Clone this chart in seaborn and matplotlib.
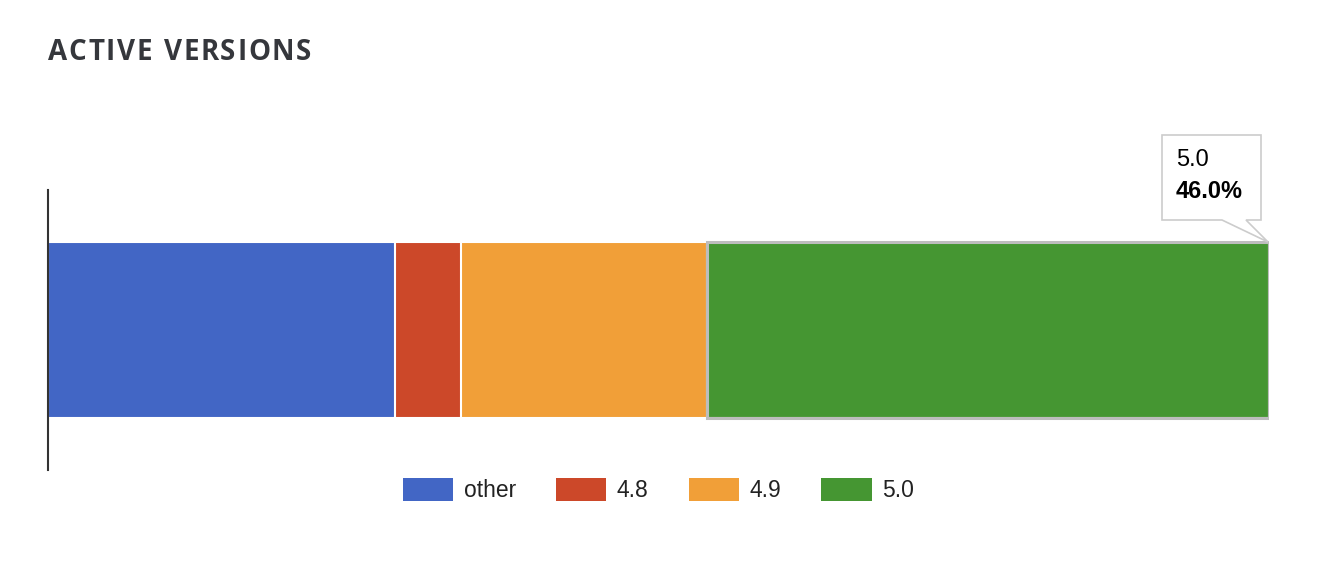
import matplotlib
matplotlib.use("Agg")
import matplotlib.pyplot as plt
from matplotlib.patches import Patch, Polygon
import seaborn as sns
import pandas as pd

# version shares (%)
versions = ["other", "4.8", "4.9", "5.0"]
shares = [28.4, 5.4, 20.2, 46.0]
colors = ["#4266c5", "#cc4829", "#f19f38", "#459632"]
highlight = "5.0"

W, H = 1322, 572
TITLE = "#35373c"
TEXT = "#222222"

sns.set_theme(style="white")
plt.rcParams["font.family"] = ["Liberation Sans", "DejaVu Sans"]

df = pd.DataFrame({"version": versions, "share": shares, "color": colors})
df["start"] = df["share"].cumsum() - df["share"]
df["end"] = df["share"].cumsum()
df["row"] = "versions"

fig = plt.figure(figsize=(W / 100, H / 100), dpi=100)
ax = fig.add_axes([48 / W, (H - 470) / H, 1221 / W, 280 / H])

# overlay cumulative bars, longest first, so each segment shows through
for _, r in df.iloc[::-1].iterrows():
    sns.barplot(x=[r["end"]], y=[r["row"]], orient="h", color=r["color"],
                saturation=1, width=0.625, edgecolor="white", linewidth=1.5, ax=ax)

# hover outline on the highlighted segment
hl = df[df["version"] == highlight].iloc[0]
ax.barh(0, hl["share"], left=hl["start"], height=0.625, fill=False,
        edgecolor="#bdbdbd", linewidth=2.2, zorder=3)

ax.set_xlim(0, 100)
ax.set_ylim(0.5, -0.5)
ax.set_xticks([])
ax.set_yticks([])
ax.set_xlabel("")
ax.set_ylabel("")
for s in ["top", "right", "bottom"]:
    ax.spines[s].set_visible(False)
ax.spines["left"].set_color("#333333")
ax.spines["left"].set_linewidth(1.5)

# title with letter spacing
fig.canvas.draw()
renderer = fig.canvas.get_renderer()
x = 48
for ch in "ACTIVE VERSIONS":
    t = fig.text(x / W, (H - 53) / H, ch if ch != " " else "A", fontsize=20,
                 family="Open Sans", weight="bold", color=TITLE, va="center")
    w = t.get_window_extent(renderer).width
    if ch == " ":
        t.set_visible(False)
        w *= 0.45
    x += w + 1.6

# tooltip with pointer
pts = [(1162, 135), (1261, 135), (1261, 220), (1246, 220), (1268, 242),
       (1222, 220), (1162, 220)]
tip = Polygon([(px / W, (H - py) / H) for px, py in pts], closed=True,
              transform=fig.transFigure, facecolor="white", edgecolor="#cccccc",
              linewidth=1.2, zorder=10)
fig.patches.append(tip)
fig.text(1176 / W, (H - 160) / H, highlight, fontsize=17, color="black",
         va="center", zorder=11)
fig.text(1176 / W, (H - 192) / H, f"{hl['share']:.1f}%", fontsize=17,
         weight="bold", color="black", va="center", zorder=11)

handles = [Patch(facecolor=c, edgecolor="none", label=v) for v, c in zip(versions, colors)]
fig.legend(handles=handles, loc="center", bbox_to_anchor=(0.498, (H - 490) / H),
           ncol=4, frameon=False, fontsize=16.5, labelcolor=TEXT,
           handlelength=2.2, handleheight=1.2, handletextpad=0.45,
           columnspacing=1.75)

fig.savefig("out.png", dpi=100)
